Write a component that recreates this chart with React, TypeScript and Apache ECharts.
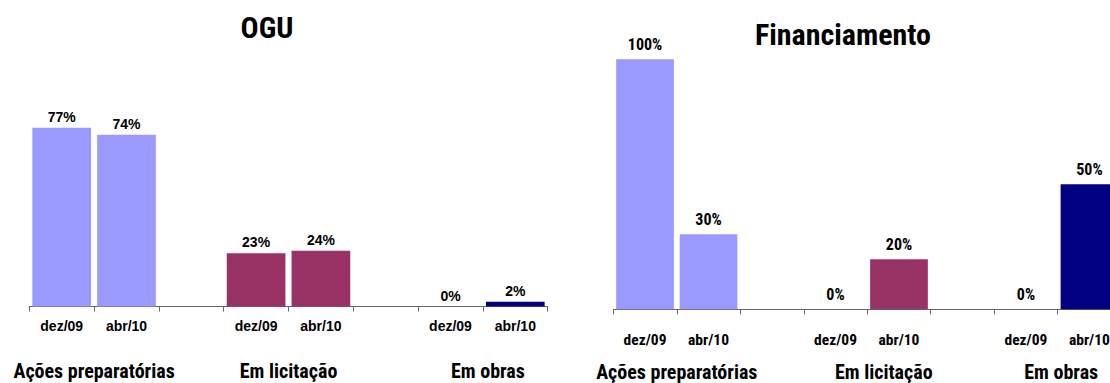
import React, { useEffect, useRef } from "react";
import * as echarts from "echarts";

const categories = ["dez/09", "abr/10", "", "dez/09", "abr/10", "", "dez/09", "abr/10"];
const groupLabels = ["", "Ações preparatórias", "", "", "Em licitação", "", "", "Em obras", ""];
const oguValues: (number | null)[] = [77, 74, null, 23, 24, null, 0, 2];
const finValues: (number | null)[] = [100, 30, null, 0, 20, null, 0, 50];
const barColors = ["#9999FF", "#9999FF", "#9999FF", "#993366", "#993366", "#993366", "#000080", "#000080"];
const titles = ["OGU", "Financiamento"];

const NARROW = "'Liberation Sans Narrow', 'Roboto Condensed', 'DejaVu Sans Condensed', 'Arial Narrow', sans-serif";
const WIDE = "'Liberation Sans', Arial, sans-serif";

function buildData(values: (number | null)[]) {
  return values.map((v, i) => ({ value: v, itemStyle: { color: barColors[i] } }));
}

function shiftedLabels(shifts: Record<string, number>) {
  return groupLabels.map((g) =>
    shifts[g] !== undefined ? { value: g, textStyle: { padding: [0, 0, 0, shifts[g]] } } : g
  );
}

export default function App() {
  const ref = useRef<HTMLDivElement>(null);
  useEffect(() => {
    if (!ref.current) return;
    const chart = echarts.init(ref.current, null, { renderer: "svg" });
    const axisLineStyle = { color: "#666666", width: 1 };
    const leftGroupLabels = shiftedLabels({ "Em obras": 10 });
    const rightGroupLabels = shiftedLabels({ "Em licitação": 33, "Em obras": 7 });
    const option: any = {
      animation: false,
      backgroundColor: "#ffffff",
      title: [
        {
          text: titles[0],
          left: 267,
          top: 12,
          padding: 0,
          textAlign: "center",
          textStyle: { fontFamily: NARROW, fontWeight: "bold", fontSize: 30, color: "#000" },
        },
        {
          text: titles[1],
          left: 843,
          top: 19,
          padding: 0,
          textAlign: "center",
          textStyle: { fontFamily: NARROW, fontWeight: "bold", fontSize: 30, color: "#000" },
        },
      ],
      grid: [
        { left: 29.3, top: 74.5, width: 518.4, height: 232 },
        { left: 613.3, top: 59.3, width: 507.9, height: 250 },
      ],
      xAxis: [
        {
          type: "category",
          gridIndex: 0,
          data: categories,
          axisLine: { lineStyle: axisLineStyle },
          axisTick: { show: true, interval: 0, length: 5, lineStyle: axisLineStyle },
          axisLabel: {
            interval: 0,
            margin: 12,
            fontFamily: WIDE,
            fontWeight: "bold",
            fontSize: 14,
            color: "#000",
          },
        },
        {
          type: "category",
          gridIndex: 0,
          position: "bottom",
          boundaryGap: false,
          data: leftGroupLabels,
          axisLine: { show: false },
          axisTick: { show: false },
          axisLabel: {
            interval: 0,
            margin: 54,
            fontFamily: NARROW,
            fontWeight: "bold",
            fontSize: 20,
            color: "#000",
          },
        },
        {
          type: "category",
          gridIndex: 1,
          data: categories,
          axisLine: { lineStyle: axisLineStyle },
          axisTick: { show: true, interval: 0, length: 5, lineStyle: axisLineStyle },
          axisLabel: {
            interval: 0,
            margin: 23,
            fontFamily: NARROW,
            fontWeight: "bold",
            fontSize: 15.5,
            color: "#000",
          },
        },
        {
          type: "category",
          gridIndex: 1,
          position: "bottom",
          boundaryGap: false,
          data: rightGroupLabels,
          axisLine: { show: false },
          axisTick: { show: false },
          axisLabel: {
            interval: 0,
            margin: 53,
            fontFamily: NARROW,
            fontWeight: "bold",
            fontSize: 20,
            color: "#000",
          },
        },
      ],
      yAxis: [
        { type: "value", gridIndex: 0, min: 0, max: 100, show: false },
        { type: "value", gridIndex: 1, min: 0, max: 100, show: false },
      ],
      series: [
        {
          type: "bar",
          xAxisIndex: 0,
          yAxisIndex: 0,
          barWidth: 58.7,
          data: buildData(oguValues),
          label: {
            show: true,
            position: "top",
            distance: 4,
            formatter: "{c}%",
            fontFamily: WIDE,
            fontWeight: "bold",
            fontSize: 14,
            color: "#000",
          },
        },
        {
          type: "bar",
          xAxisIndex: 2,
          yAxisIndex: 1,
          barWidth: 57.7,
          data: buildData(finValues),
          label: {
            show: true,
            position: "top",
            distance: 7,
            formatter: "{c}%",
            fontFamily: NARROW,
            fontWeight: "bold",
            fontSize: 16,
            color: "#000",
          },
        },
      ],
    };
    chart.setOption(option);
    return () => chart.dispose();
  }, []);
  return (
    <div
      style={{ position: "absolute", left: 0, top: 0, width: 1110, height: 383, overflow: "hidden", background: "#fff" }}
    >
      <div ref={ref} style={{ width: 1130, height: 383 }} />
    </div>
  );
}
